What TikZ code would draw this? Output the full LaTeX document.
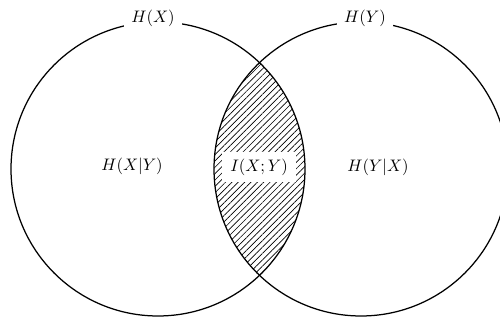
\documentclass[tikz,border=0pt]{standalone}
\usetikzlibrary{patterns.meta}
\begin{document}
\begin{tikzpicture}[x=0.6pt,y=0.6pt,
  setcircle/.style={circle,draw,line width=0.75pt,minimum size=176.4pt,inner sep=0pt},
  lbl/.style={fill=white,inner xsep=4.5pt,inner ysep=2pt,font=\normalsize}]
\useasboundingbox (0,0) rectangle (500,325);
% lens hatching
\begin{scope}
  \clip (158,156) circle[radius=88.2pt];
  \fill[pattern={Lines[angle=45,distance=2.7pt,line width=0.4pt]}] (361,156) circle[radius=88.2pt];
\end{scope}
\node[setcircle] (L) at (158,156) {};
\node[setcircle] (R) at (361,156) {};
\node[lbl] (hx) at (153,307) {$H(X)$};
\node[lbl] (hy) at (365,307) {$H(Y)$};
\node[font=\normalsize] (hxy) at (132,159) {$H(X|Y)$};
\node[lbl,inner xsep=5pt,inner ysep=4pt] (ixy) at (259,158) {$I(X;Y)$};
\node[font=\normalsize] (hyx) at (378,158) {$H(Y|X)$};
\end{tikzpicture}
\end{document}
